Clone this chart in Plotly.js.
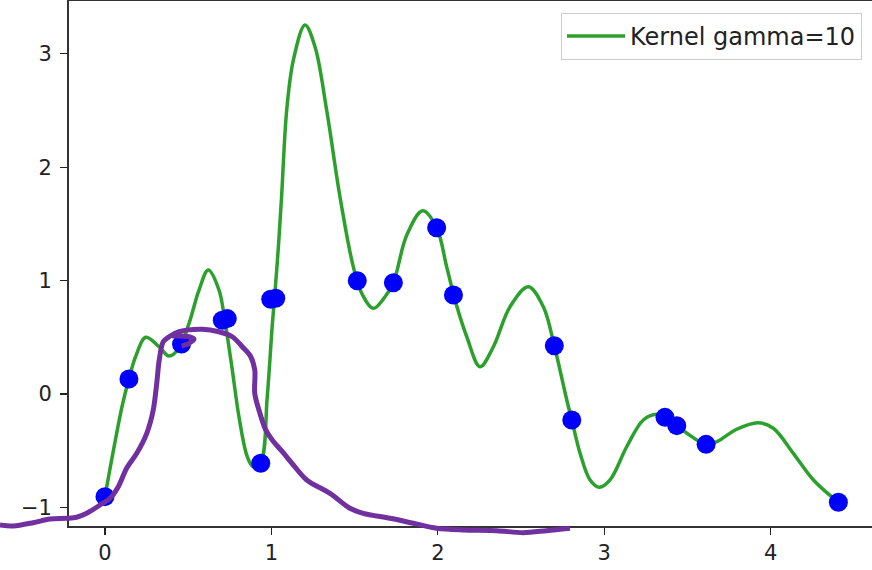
<!DOCTYPE html>
<html>
<head>
<meta charset="utf-8">
<script src="https://cdn.plot.ly/plotly-3.0.1.min.js"></script>
<style>html,body{margin:0;padding:0;background:#fff;}#chart{width:872px;height:570px;}</style>
</head>
<body>
<div id="chart"></div>
<script>
// Sample points (blue dots)
const pointX = [0.0, 0.144, 0.46, 0.705, 0.735, 0.936, 0.996, 1.026, 1.516, 1.733, 1.993, 2.094, 2.70, 2.805, 3.365, 3.436, 3.612, 4.407];
const pointY = [-0.905, 0.132, 0.44, 0.65, 0.665, -0.611, 0.835, 0.845, 0.999, 0.981, 1.467, 0.873, 0.426, -0.229, -0.206, -0.279, -0.444, -0.955];

// Kernel regression curve (gamma=10)
const curveX = [0.0, 0.044, 0.104, 0.144, 0.184, 0.245, 0.325, 0.385, 0.445, 0.505, 0.565, 0.621, 0.685, 0.719, 0.765, 0.805, 0.855, 0.890, 0.936, 0.975, 1.005, 1.035, 1.060, 1.092, 1.132, 1.202, 1.262, 1.332, 1.412, 1.492, 1.543, 1.612, 1.683, 1.733, 1.813, 1.909, 1.993, 2.053, 2.113, 2.174, 2.254, 2.334, 2.434, 2.544, 2.634, 2.700, 2.775, 2.805, 2.855, 2.915, 2.971, 3.035, 3.135, 3.235, 3.315, 3.370, 3.436, 3.612, 3.676, 3.796, 3.926, 4.016, 4.136, 4.257, 4.407];
const curveY = [-0.906, -0.55, -0.10, 0.132, 0.329, 0.500, 0.417, 0.335, 0.403, 0.623, 0.917, 1.093, 0.917, 0.659, 0.212, -0.200, -0.553, -0.640, -0.600, -0.024, 0.600, 1.153, 1.711, 2.504, 2.945, 3.254, 3.063, 2.504, 1.740, 1.123, 0.888, 0.756, 0.858, 0.981, 1.400, 1.616, 1.467, 1.123, 0.780, 0.505, 0.241, 0.417, 0.770, 0.946, 0.770, 0.426, -0.053, -0.229, -0.523, -0.758, -0.823, -0.758, -0.465, -0.229, -0.179, -0.205, -0.280, -0.444, -0.421, -0.311, -0.253, -0.302, -0.523, -0.758, -0.955];

// Hand-drawn purple stroke (same data units, extends past the axes); null splits the small hook
const strokeX = [-0.631, -0.551, -0.431, -0.331, -0.230, -0.170, -0.110, -0.030, 0.030, 0.080, 0.130, 0.191, 0.251, 0.290, 0.311, 0.326, 0.350, 0.385, 0.445, 0.585, 0.685, 0.765, 0.825, 0.876, 0.900, 0.900, 0.925, 0.966, 1.005, 1.066, 1.132, 1.212, 1.352, 1.472, 1.552, 1.713, 1.853, 1.993, 2.153, 2.354, 2.514, 2.654, 2.794, null, 0.404, 0.505, 0.535, 0.505, 0.461];
const strokeY = [-1.155, -1.164, -1.135, -1.102, -1.096, -1.087, -1.052, -0.979, -0.920, -0.817, -0.655, -0.523, -0.347, -0.141, 0.094, 0.300, 0.461, 0.505, 0.549, 0.571, 0.549, 0.505, 0.417, 0.329, 0.212, 0.006, -0.141, -0.317, -0.406, -0.509, -0.626, -0.758, -0.876, -1.008, -1.052, -1.096, -1.140, -1.184, -1.199, -1.205, -1.223, -1.205, -1.184, null, 0.511, 0.505, 0.482, 0.447, 0.423];

const tickVals = [0, 1, 2, 3, 4];
const yTickVals = [-1, 0, 1, 2, 3];
const legendName = 'Kernel gamma=10';

const W = 872, H = 570;
const xRange = [-0.218, 4.609], yRange = [-1.164, 3.466];
const xDom = [68.7 / W, 1], yDom = [1 - 526 / H, 1 - 1 / H];
function ext(r, d) {
  const s = (r[1] - r[0]) / (d[1] - d[0]);
  return [r[0] - d[0] * s, r[1] + (1 - d[1]) * s];
}
const tickFont = {family: 'DejaVu Sans, sans-serif', size: 21, color: '#222'};
const legendFont = {family: 'DejaVu Sans, sans-serif', size: 24, color: '#222'};

const traces = [
  {x: curveX, y: curveY, type: 'scatter', mode: 'lines', name: legendName,
   line: {color: '#2ca02c', width: 3.5, shape: 'spline', smoothing: 1}, xaxis: 'x', yaxis: 'y'},
  {x: pointX, y: pointY, type: 'scatter', mode: 'markers', showlegend: false,
   marker: {color: '#0000ff', size: 19, line: {width: 0}}, xaxis: 'x', yaxis: 'y'},
  {x: strokeX, y: strokeY, type: 'scatter', mode: 'lines', showlegend: false, connectgaps: false,
   line: {color: '#7030a0', width: 5, shape: 'spline', smoothing: 0.9}, xaxis: 'x2', yaxis: 'y2'}
];

const layout = {
  width: W, height: H,
  margin: {l: 0, r: 0, t: 0, b: 0, pad: 0},
  paper_bgcolor: '#fff', plot_bgcolor: 'rgba(0,0,0,0)',
  showlegend: true,
  font: tickFont,
  xaxis: {domain: xDom, range: xRange, tickvals: tickVals, ticks: 'outside', ticklen: 7, tickwidth: 1.3,
          tickcolor: '#222', showline: true, linecolor: '#333', linewidth: 1.6, mirror: true,
          showgrid: false, zeroline: false, tickfont: tickFont, ticklabelstandoff: 0, automargin: false, fixedrange: true},
  yaxis: {domain: yDom, range: yRange, tickvals: yTickVals, ticks: 'outside', ticklen: 7, tickwidth: 1.3,
          tickcolor: '#222', showline: true, linecolor: '#333', linewidth: 1.6, mirror: false,
          showgrid: false, zeroline: false, tickfont: tickFont, ticklabelstandoff: 4, automargin: false, fixedrange: true},
  xaxis2: {domain: [0, 1], range: ext(xRange, xDom), anchor: 'y2', visible: false, fixedrange: true},
  yaxis2: {domain: [0, 1], range: ext(yRange, yDom), anchor: 'x2', visible: false, fixedrange: true},
  legend: {x: 862 / W, y: 1 - 13 / H, xanchor: 'right', yanchor: 'top', bgcolor: '#fff',
           bordercolor: '#cccccc', borderwidth: 1, font: legendFont, itemwidth: 58}
};

Plotly.newPlot('chart', traces, layout, {displayModeBar: false, staticPlot: true});
</script>
</body>
</html>
